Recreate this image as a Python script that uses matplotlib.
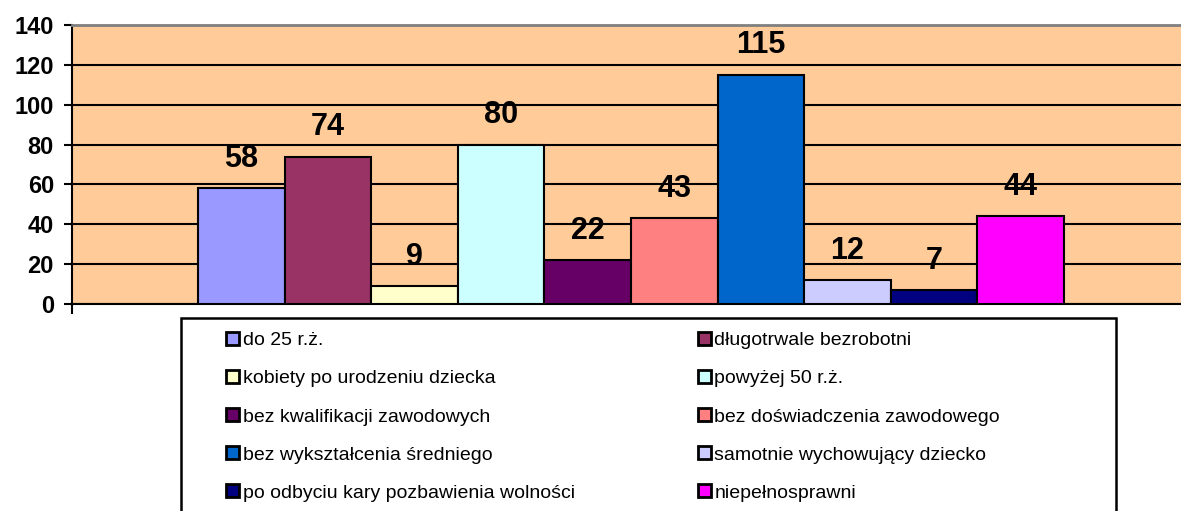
import matplotlib.pyplot as plt
from matplotlib.patches import Patch, Rectangle

categories = ["do 25 r.ż.", "długotrwale bezrobotni", "kobiety po urodzeniu dziecka",
              "powyżej 50 r.ż.", "bez kwalifikacji zawodowych", "bez doświadczenia zawodowego",
              "bez wykształcenia średniego", "samotnie wychowujący dziecko",
              "po odbyciu kary pozbawienia wolności", "niepełnosprawni"]
values = [58, 74, 9, 80, 22, 43, 115, 12, 7, 44]
colors = ["#9999FF", "#993366", "#FFFFCC", "#CCFFFF", "#660066",
          "#FF8080", "#0066CC", "#CCCCFF", "#000080", "#FF00FF"]
yticks = [0, 20, 40, 60, 80, 100, 120, 140]

plt.rcParams["font.family"] = ["Liberation Sans", "DejaVu Sans"]

W, H = 1181, 511
fig = plt.figure(figsize=(W / 100, H / 100), dpi=100)
ax = fig.add_axes([72 / W, 1 - 304 / H, 1 - 72 / W, (304 - 25) / H])
ax.set_facecolor("#FFCC99")

x = list(range(len(values)))
ax.bar(x, values, width=1.0, color=colors, edgecolor="black", linewidth=1.5, zorder=3)
for xi, v in zip(x, values):
    ax.annotate(str(v), (xi, v), xytext=(0, 15.5), textcoords="offset points",
                ha="center", va="baseline", fontsize=22, fontweight="bold", zorder=4)

x_left = -0.5 - 126 / 86.6
x_right = -0.5 + (W - 198) / 86.6
ax.set_xlim(x_left, x_right)
ax.set_ylim(0, 140)
ax.set_yticks(yticks)
ax.set_yticklabels([str(t) for t in yticks], fontsize=17, fontweight="bold")
ax.yaxis.grid(True, color="black", linewidth=1.5, zorder=1)
ax.set_axisbelow(True)
ax.tick_params(axis="y", direction="out", length=6, width=1.5, pad=7)
ax.set_xticks([x_left])
ax.set_xticklabels([""])
ax.tick_params(axis="x", direction="out", length=7, width=1.5)

ax.spines["right"].set_visible(False)
ax.spines["top"].set_color("#808080")
ax.spines["top"].set_linewidth(2)
ax.spines["left"].set_linewidth(1.5)
ax.spines["bottom"].set_linewidth(1.5)

# legend box (cut off at the bottom of the picture)
fig.patches.append(Rectangle((181 / W, -0.05), (1116 - 181) / W, 1 - 318 / H + 0.05,
                             transform=fig.transFigure, facecolor="white",
                             edgecolor="black", linewidth=1.8))

handles = [Patch(facecolor=c, edgecolor="black", linewidth=2) for c in colors]
order = [0, 2, 4, 6, 8, 1, 3, 5, 7, 9]
fig.legend([handles[i] for i in order], [categories[i] for i in order],
           ncol=2, frameon=False, loc="upper left",
           bbox_to_anchor=(226 / W, 1 - 332 / H), fontsize=14,
           handlelength=0.67, handleheight=0.67, handletextpad=0.2,
           labelspacing=1.06, columnspacing=6.3, borderpad=0, borderaxespad=0)

fig.savefig("out.png", dpi=100)
